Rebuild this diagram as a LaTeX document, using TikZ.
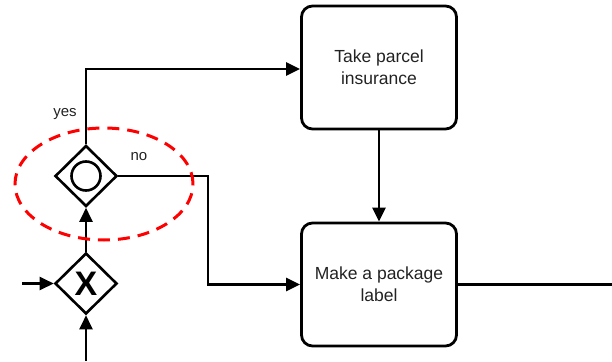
\documentclass[tikz,border=0pt]{standalone}
\usepackage{fontspec}
\setmainfont{Liberation Sans}
\usetikzlibrary{shapes.geometric,arrows.meta}
\definecolor{txt}{HTML}{222222}
\begin{document}
\begin{tikzpicture}[x=1pt,y=-1pt,
  task/.style={draw, line width=2.8pt, rounded corners=11pt, minimum width=155pt,
    minimum height=123pt, align=center, text=txt, inner sep=0pt,
    font=\fontsize{17.5}{22}\selectfont},
  gate/.style={draw, shape=diamond, line width=2.6pt, minimum width=62pt,
    minimum height=61pt, inner sep=0pt},
  flow/.style={line width=2.5pt, -{Triangle[length=14pt,width=13pt]}},
  plain/.style={line width=2.5pt},
  lab/.style={text=txt, font=\fontsize{15}{18}\selectfont, inner sep=0pt},
  highlight/.style={draw=red, line width=3pt, dash pattern=on 12pt off 8pt}]
\useasboundingbox (0,0) rectangle (612,361);

% tasks
\node[task] (ins) at (379,67.5) {Take parcel\\insurance};
\node[task] (lbl) at (379,284.5) {Make a package\\label};

% gateways
\node[gate] (gwo) at (86,176) {};
\draw[line width=2.6pt] (gwo.center) circle (14.5pt);
\node[gate] (gwx) at (86,283.5) {};
\node[font=\fontsize{34}{34}\selectfont\bfseries, inner sep=0pt] (xm) at (gwx.center) {X};

% free ends
\coordinate (inl) at (22,283.5);
\coordinate (inb) at (86,361);
\coordinate (outr) at (612,284.5);

% sequence flows
\draw[flow] (inl) -- (gwx.west);
\draw[flow] (inb) -- (gwx.south);
\draw[flow] (gwx.north) -- (gwo.south);
\draw[flow] (gwo.north) |- (ins.west |- 0,69);
\draw[flow] (gwo.east) -- (208,176) |- (lbl.west);
\draw[flow] (ins.south) -- (lbl.north);
\draw[plain] (lbl.east) -- (outr);

% labels
\node[lab] (yes) at (65,114) {yes};
\node[lab] (no) at (139,157) {no};

% dashed ring around the inclusive gateway
\draw[highlight] (104,184) ellipse (89pt and 56pt);
\end{tikzpicture}
\end{document}
